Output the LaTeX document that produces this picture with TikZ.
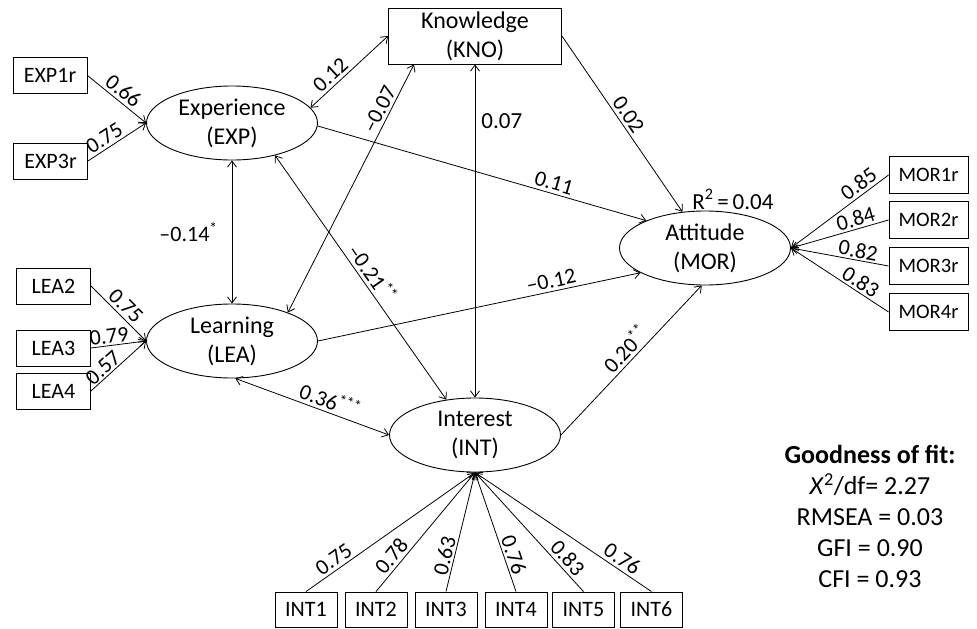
\documentclass[tikz,border=0pt]{standalone}
\usepackage{fontspec}
\setmainfont{Carlito}
\usetikzlibrary{shapes.geometric,arrows.meta}
\begin{document}
\begin{tikzpicture}[x=1pt,y=-1pt,
 base/.style={font=\fontsize{22}{28}\selectfont},
 big/.style={font=\fontsize{24}{29}\selectfont},
 obs/.style={base,draw,line width=0.9pt,minimum width=74pt,minimum height=36pt,inner sep=0pt},
 intbox/.style={obs,minimum width=62pt,minimum height=35pt},
 morbox/.style={obs,font=\fontsize{20.5}{26}\selectfont,minimum width=79pt,minimum height=37pt},
 lat/.style={big,draw,ellipse,line width=0.9pt,minimum width=171pt,minimum height=74pt,inner sep=0pt,align=center},
 con/.style={line width=0.8pt,-{Straight Barb[length=6pt,width=9pt]}},
 dcon/.style={line width=0.8pt,{Straight Barb[length=6pt,width=9pt]}-{Straight Barb[length=6pt,width=9pt]}},
 lab/.style={base,sloped,above,inner sep=3pt},
]
\useasboundingbox (0,0) rectangle (977,629);

% latent variables
\node[lat] (exp) at (232,123) {Experience\\(EXP)};
\node[lat] (lea) at (232,341) {Learning\\(LEA)};
\node[lat] (mor) at (705,248) {Attitude\\(MOR)};
\node[lat] (int) at (475,435) {Interest\\(INT)};
\node[big,draw,line width=0.9pt,minimum width=173pt,minimum height=56pt,inner sep=0pt,align=center] (kno) at (475,36) {Knowledge\\(KNO)};

% observed indicators
\node[obs] (e1) at (50,75.5) {EXP1r};
\node[obs] (e3) at (50.5,161) {EXP3r};
\node[obs] (l2) at (53.5,286) {LEA2};
\node[obs] (l3) at (53.5,348) {LEA3};
\node[obs] (l4) at (53.5,391) {LEA4};
\node[morbox] (m1) at (928.5,175) {MOR1r};
\node[morbox] (m2) at (928.5,220) {MOR2r};
\node[morbox] (m3) at (928.5,266) {MOR3r};
\node[morbox] (m4) at (928.5,312) {MOR4r};
\node[intbox] (i1) at (306,609.5) {INT1};
\node[intbox] (i2) at (376,609.5) {INT2};
\node[intbox] (i3) at (446,609.5) {INT3};
\node[intbox] (i4) at (516,609.5) {INT4};
\node[intbox] (i5) at (583.5,609.5) {INT5};
\node[intbox] (i6) at (651.5,609.5) {INT6};

% loadings
\draw[con] (e1.east) -- node[lab,pos=0.5]{0.66} (exp.west);
\draw[con] (e3.east) -- node[lab,pos=0.38]{0.75} (exp.west);
\draw[con] (l2.east) -- node[lab,pos=0.5]{0.75} (lea.west);
\draw[con] (l3.east) -- node[lab,pos=0.35,inner sep=1.5pt]{0.79} (lea.west);
\draw[con] (l4.east) -- node[lab,pos=0.33,inner sep=1.5pt]{0.57} (lea.west);
\draw[con] (m1.west) -- node[lab,pos=0.24]{0.85} (mor.east);
\draw[con] (m2.west) -- node[lab,pos=0.31,inner sep=2pt]{0.84} (mor.east);
\draw[con] (m3.west) -- node[lab,pos=0.33,inner sep=2pt]{0.82} (mor.east);
\draw[con] (m4.west) -- node[lab,pos=0.34,inner sep=2pt]{0.83} (mor.east);
\draw[con] (i1.north) -- node[lab,pos=0.2]{0.75} (int.south);
\draw[con] (i2.north) -- node[lab,pos=0.24]{0.78} (int.south);
\draw[con] (i3.north) -- node[lab,pos=0.28,inner sep=2pt]{0.63} (int.south);
\draw[con] (i4.north) -- node[lab,pos=0.28,inner sep=2pt]{0.76} (int.south);
\draw[con] (i5.north) -- node[lab,pos=0.22]{0.83} (int.south);
\draw[con] (i6.north) -- node[lab,pos=0.2]{0.76} (int.south);

% structural paths
\draw[dcon] (exp.11) -- node[lab,pos=0.35]{0.12} (kno.west);
\draw[dcon] (lea.27) -- node[lab,pos=0.8]{–0.07} (kno.205);
\draw[dcon] (kno.south) -- node[right=6pt,inner sep=0pt,pos=0.17,font=\fontsize{23}{26}\selectfont]{0.07} (int.north);
\draw[con] (kno.east) -- node[lab,pos=0.48]{0.02} (mor.122);
\draw[con] (exp.-2) -- node[lab,pos=0.71]{0.11} (mor.155);
\draw[con] (lea.east) -- node[lab,pos=0.73]{–0.12} (mor.201);
\draw[dcon] (exp.south) -- node[base,left=14pt,pos=0.5,inner sep=0pt]{–0.14\textsuperscript{*}} (lea.north);
\draw[dcon] (exp.-37) -- node[lab,pos=0.51]{–0.21\textsuperscript{**}} (int.129);
\draw[dcon] (lea.-85) -- node[lab,pos=0.59]{0.36\textsuperscript{***}} (int.west);
\draw[con] (int.east) -- node[lab,pos=0.52]{0.20\textsuperscript{**}} (mor.265);

% R squared
\node[font=\fontsize{23}{26}\selectfont,anchor=base,inner sep=0pt] (r2) at (733,209) {R\textsuperscript{2}\,=\,0.04};

% fit statistics
\node[font=\fontsize{26}{31}\selectfont,align=center,inner sep=0pt] (gof) at (870,516) {\textbf{Goodness of fit:}\\\textit{X}\textsuperscript{2}/df= 2.27\\RMSEA = 0.03\\GFI = 0.90\\CFI = 0.93};
\end{tikzpicture}
\end{document}
